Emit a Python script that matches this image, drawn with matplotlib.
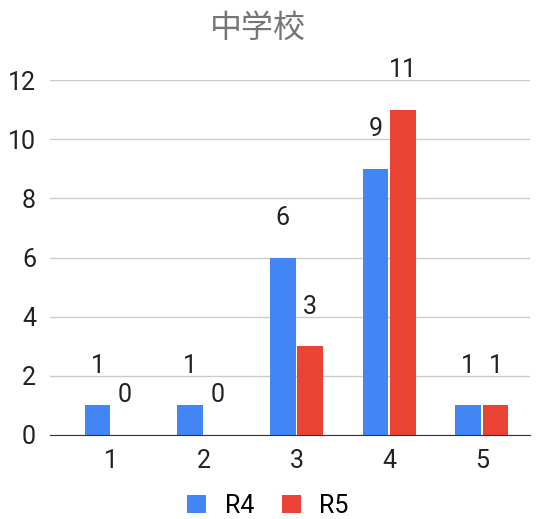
import matplotlib.pyplot as plt
import numpy as np

plt.rcParams['font.family'] = ['Roboto', 'Noto Sans CJK JP', 'DejaVu Sans']

# data
categories = ["1", "2", "3", "4", "5"]
r4_values = [1, 1, 6, 9, 1]
r5_values = [0, 0, 3, 11, 1]
series_names = ["R4", "R5"]
y_ticks = [0, 2, 4, 6, 8, 10, 12]

blue = "#4285F4"
red = "#EA4335"
fs = 18

fig = plt.figure(figsize=(5.4, 5.19), dpi=100)
ax = fig.add_axes([50 / 540, 1 - 435 / 519, (530 - 50) / 540, (435 - 80) / 519])

x = np.arange(len(categories))
w = 0.275
off = 0.148
bars4 = ax.bar(x - off, r4_values, width=w, color=blue, label=series_names[0], zorder=3)
bars5 = ax.bar(x + off, r5_values, width=w, color=red, label=series_names[1], zorder=3)

# value labels above the bars
for bars, vals in [(bars4, r4_values), (bars5, r5_values)]:
    for b, v in zip(bars, vals):
        ax.annotate(str(v), (b.get_x() + b.get_width() / 2, v), xytext=(0, 28.5),
                    textcoords="offset points", ha="center", va="center",
                    fontsize=fs, color="#222222", annotation_clip=False)

ax.set_xlim(-0.66, 4.52)
ax.set_ylim(0, 12)
ax.set_yticks(y_ticks)
ax.set_xticks(x)
ax.set_xticklabels(categories)
ax.tick_params(axis="both", length=0, labelsize=fs, labelcolor="#222222")
ax.tick_params(axis="y", pad=10)
ax.tick_params(axis="x", pad=10)
ax.grid(axis="y", color="#cccccc", linewidth=1, zorder=0)
for s in ["top", "right", "left"]:
    ax.spines[s].set_visible(False)
ax.spines["bottom"].set_color("#333333")
ax.spines["bottom"].set_zorder(4)

fig.text(258 / 540, 1 - 28 / 519, "中学校", ha="center", va="center", fontsize=23, color="#757575")

fig.legend(handles=[bars4, bars5], labels=series_names, loc="center", bbox_to_anchor=(268 / 540, 1 - 506 / 519),
           ncol=2, frameon=False, fontsize=fs, handlelength=0.75, handleheight=0.75, columnspacing=1.1,
           handletextpad=0.75)

fig.savefig("out.png", dpi=100)
